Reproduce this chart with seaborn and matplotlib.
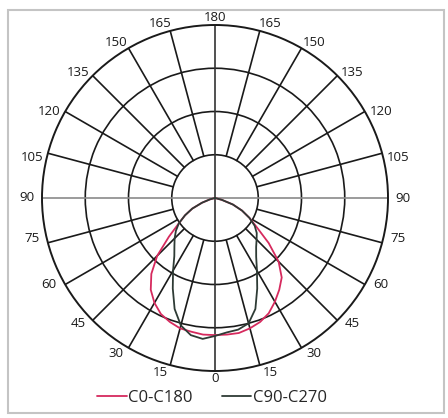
import numpy as np
import pandas as pd
import matplotlib
matplotlib.use("Agg")
import matplotlib.pyplot as plt
from matplotlib.patches import Rectangle
import seaborn as sns

# gamma angle from nadir (deg); each C-plane pair is drawn as two half curves
GAMMA = [0, 5, 10, 15, 20, 25, 30, 35, 40, 45, 50, 55, 60, 65, 70, 75, 80, 85, 90]
C0 = [317, 317, 317, 312, 305, 294, 277, 259, 240, 208, 162, 118, 92, 69, 44, 16, 0, 0, 0]
C180 = [317, 317, 314, 312, 305, 296, 280, 259, 229, 189, 139, 102, 80, 58, 32, 12, 0, 0, 0]
C90 = [319, 312, 309, 300, 273, 231, 194, 166, 148, 136, 126, 112, 92, 69, 44, 16, 0, 0, 0]
C270 = [319, 327, 322, 305, 273, 231, 194, 164, 146, 132, 118, 102, 80, 58, 32, 12, 0, 0, 0]
SERIES = ["C0-C180", "C90-C270"]
COLORS = {"C0-C180": "#d62a5e", "C90-C270": "#2e3b35"}
RINGS = [100, 200, 300]
R_MAX = 400
ANGLE_LABELS = [0, 15, 30, 45, 60, 75, 90, 105, 120, 135, 150, 165, 180]

sns.set_style("white")
plt.rcParams["font.family"] = ["Open Sans", "DejaVu Sans"]

rows = []
for name, right, left in [("C0-C180", C0, C180), ("C90-C270", C90, C270)]:
    g = np.array(GAMMA, dtype=float)
    th = np.concatenate([-g[::-1], g[1:]])
    rr = np.concatenate([np.array(left, float)[::-1], np.array(right, float)[1:]])
    for t, r in zip(th, rr):
        rows.append({"theta": np.deg2rad(t), "r": r, "series": name})
df = pd.DataFrame(rows)

fig = plt.figure(figsize=(4.48, 4.18), dpi=100)
fig.patches.append(Rectangle((8 / 448, 1 - 413 / 418), 436 / 448, 403 / 418,
                             transform=fig.transFigure, fill=False,
                             edgecolor="#c4c4c4", lw=1.5))

ax = fig.add_axes([42 / 448, 47 / 418, 346 / 448, 346 / 418], projection="polar")
ax.set_theta_zero_location("S")
ax.set_theta_direction(1)
ax.set_ylim(0, R_MAX)
ax.set_rticks(RINGS)
ax.set_yticklabels([])
ax.set_xticks([])
ax.grid(True, color="#1a1a1a", lw=1.2)
ax.spines["polar"].set_color("#1a1a1a")
ax.spines["polar"].set_linewidth(1.4)
ax.set_facecolor("none")

# radial grid lines, from inner ring to outer circle
for a in range(15, 180, 15):
    if a == 90:
        continue
    for s in (1, -1):
        t = np.deg2rad(s * a)
        ax.plot([t, t], [RINGS[0], R_MAX], color="#1a1a1a", lw=1.2, zorder=1)
# main axes through center
ax.plot([0, 0], [0, R_MAX], color="#333333", lw=1.2, zorder=1)
ax.plot([np.pi, np.pi], [0, R_MAX], color="#333333", lw=1.2, zorder=1)
for t in (np.pi / 2, -np.pi / 2):
    ax.plot([t, t], [0, R_MAX], color="#8a8a8a", lw=1.2, zorder=1)

sns.lineplot(data=df, x="theta", y="r", hue="series", palette=COLORS,
             sort=False, estimator=None, ax=ax, legend=False, lw=1.3, zorder=3)
ax.set_xlabel("")
ax.set_ylabel("")

for a in ANGLE_LABELS:
    shift = 0 if a in (0, 90, 180) else (2.5 if a < 90 else -2.5)
    for s in ((1,) if a in (0, 180) else (1, -1)):
        t = np.deg2rad(s * (a + shift))
        rf = 1.045 + 0.04 * abs(np.sin(t))
        ax.text(t, R_MAX * rf, str(a), ha="center", va="center",
                fontsize=9.5, color="#1a1a1a")

handles = [plt.Line2D([], [], color=COLORS[n], lw=1.3) for n in SERIES]
fig.legend(handles, SERIES, loc="center", bbox_to_anchor=(212 / 448, 1 - 398 / 418),
           ncol=2, frameon=False, fontsize=12, handlelength=1.75,
           handletextpad=0.1, columnspacing=1.75)

fig.savefig("out.png", dpi=100)
